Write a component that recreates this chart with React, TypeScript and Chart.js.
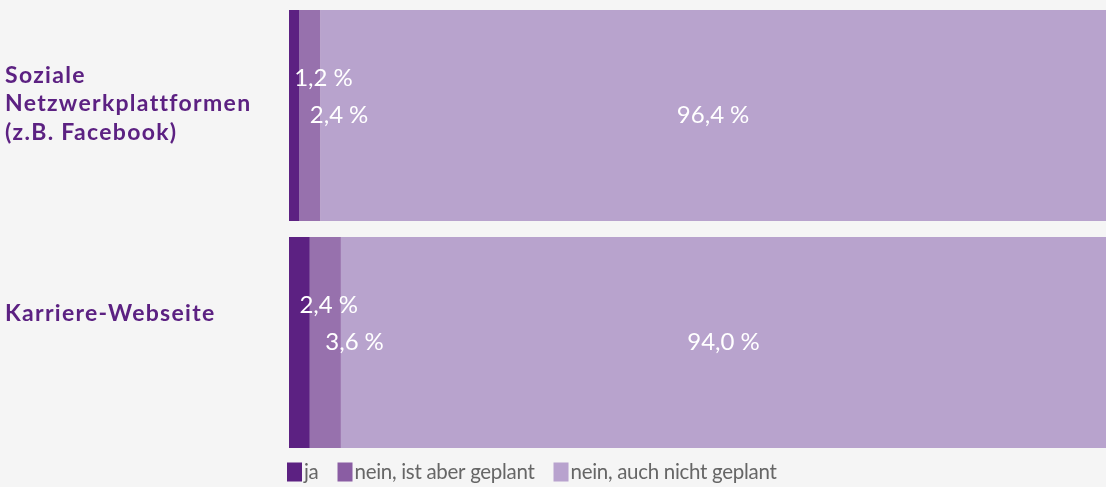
import React, { useEffect, useRef } from "react";
import { Chart, registerables } from "chart.js";

Chart.register(...registerables);

const categories: string[][] = [
  ["Soziale", "Netzwerkplattformen", "(z.B. Facebook)"],
  ["Karriere-Webseite"],
];
const seriesNames = ["ja", "nein, ist aber geplant", "nein, auch nicht geplant"];
const ja = [1.2, 2.4];
const geplant = [2.4, 3.6];
const nichtGeplant = [96.4, 94.0];

const barColors = ["#5c2182", "#9771ad", "#b8a3cd"];
const legendColors = ["#5c2182", "#8a5da3", "#b8a2ce"];
const labelColor = "#5c2182";
const legendTextColor = "#666666";
const bgColor = "#f5f5f5";

const FONT = "Lato, 'Noto Sans', sans-serif";
const VALUE_FONT = `24px ${FONT}`;
const CAT_FONT = `bold 23px ${FONT}`;
const LEGEND_FONT = `20.5px ${FONT}`;

const VISIBLE_W = 1106;
const CANVAS_W = 1154;
const CANVAS_H = 487;

const fmt = (v: number) => v.toFixed(1).replace(".", ",") + "\u202F%";

const catOffsets = [-11.5, -28.5];

const customPlugin = {
  id: "customLabels",
  afterDatasetsDraw(chart: any) {
    const ctx = chart.ctx as any;
    const right = Math.min(chart.chartArea.right, VISIBLE_W);
    ctx.save();
    ctx.textBaseline = "middle";
    // value labels
    ctx.font = VALUE_FONT;
    ctx.letterSpacing = "0.3px";
    ctx.fillStyle = "#ffffff";
    chart.data.datasets.forEach((ds: any, di: number) => {
      const meta = chart.getDatasetMeta(di);
      meta.data.forEach((bar: any, i: number) => {
        const { x, base, y } = bar.getProps(["x", "base", "y"], true);
        const text = fmt(ds.data[i]);
        const w = ctx.measureText(text).width;
        const xe = Math.min(x, right);
        const cx = (xe + base) / 2;
        ctx.textAlign = Math.abs(xe - base) < w ? "left" : "center";
        ctx.fillText(text, cx, y + (di === 0 ? -37 : 0));
      });
    });
    // category labels
    const meta0 = chart.getDatasetMeta(0);
    ctx.font = CAT_FONT;
    ctx.letterSpacing = "1.3px";
    ctx.fillStyle = labelColor;
    ctx.textAlign = "left";
    const lineH = 28.5;
    categories.forEach((lines, i) => {
      const yc = meta0.data[i].y + catOffsets[i];
      const startY = yc - ((lines.length - 1) * lineH) / 2;
      lines.forEach((ln, k) => ctx.fillText(ln, 5, startY + k * lineH));
    });
    // legend
    ctx.font = LEGEND_FONT;
    ctx.letterSpacing = "-0.3px";
    let lx = 287;
    const ly = 472;
    seriesNames.forEach((name, i) => {
      ctx.fillStyle = legendColors[i];
      ctx.fillRect(lx, ly - 9.5, 15, 19);
      ctx.fillStyle = legendTextColor;
      ctx.textAlign = "left";
      const tx = lx + 17;
      ctx.fillText(name, tx, ly);
      lx = tx + ctx.measureText(name).width + 19;
    });
    ctx.restore();
  },
};

export default function App() {
  const ref = useRef<HTMLCanvasElement | null>(null);
  useEffect(() => {
    document.body.style.margin = "0";
    document.body.style.background = bgColor;
    if (!ref.current) return;
    const chart = new Chart(ref.current, {
      type: "bar",
      data: {
        labels: categories.map((c) => c.join(" ")),
        datasets: [ja, geplant, nichtGeplant].map((d, i) => ({
          label: seriesNames[i],
          data: d,
          backgroundColor: barColors[i],
          borderWidth: 0,
          barPercentage: 1,
          categoryPercentage: 211 / 227,
        })),
      },
      options: {
        indexAxis: "y",
        animation: false,
        responsive: false,
        maintainAspectRatio: false,
        layout: { padding: { left: 289, top: 2, bottom: 31, right: 0 } },
        scales: {
          x: { stacked: true, min: 0, max: 100, display: false },
          y: { stacked: true, display: false },
        },
        plugins: {
          legend: { display: false },
          tooltip: { enabled: false },
        },
      },
      plugins: [customPlugin],
    });
    return () => chart.destroy();
  }, []);
  return (
    <div style={{ width: VISIBLE_W, height: CANVAS_H, background: bgColor, overflow: "hidden" }}>
      <canvas ref={ref} width={CANVAS_W} height={CANVAS_H} style={{ display: "block" }} />
    </div>
  );
}
